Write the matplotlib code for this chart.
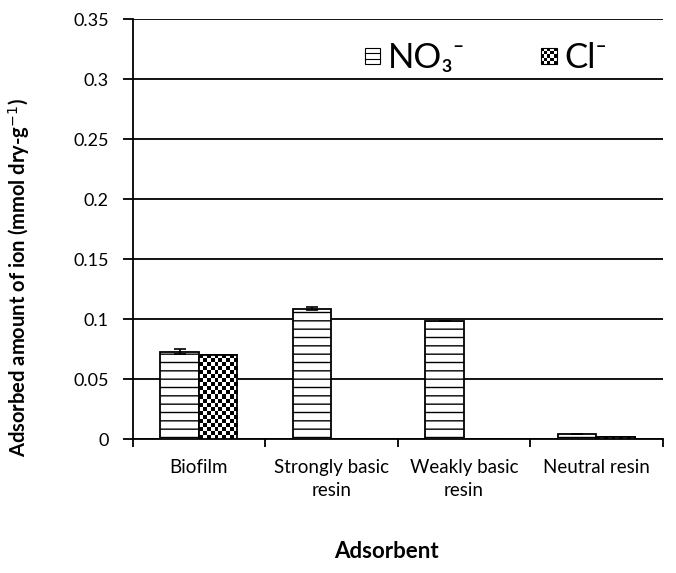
import numpy as np
import matplotlib
matplotlib.use("Agg")
import matplotlib.pyplot as plt
from matplotlib.patches import Rectangle, Patch
from matplotlib.legend_handler import HandlerBase
from matplotlib.ticker import FuncFormatter

plt.rcParams['font.family'] = ['Lato', 'DejaVu Sans']
plt.rcParams['hatch.linewidth'] = 1.0

# data
categories = ["Biofilm", "Strongly basic\nresin", "Weakly basic\nresin", "Neutral resin"]
no3 = [0.073, 0.109, 0.099, 0.0044]
no3_err = [0.002, 0.001, 0.0, 0.0]
cl = [0.070, 0.0, 0.0, 0.002]
yticks = [0, 0.05, 0.1, 0.15, 0.2, 0.25, 0.3, 0.35]


class CheckerHandler(HandlerBase):
    def create_artists(self, legend, orig_handle, xdescent, ydescent,
                       width, height, fontsize, trans):
        arts = []
        s = min(width, height) * 0.75
        x0 = -xdescent + (width - s) / 2
        y0 = -ydescent + (height - s) / 2
        n = 5
        c = s / n
        arts.append(Rectangle((x0, y0), s, s, facecolor="white",
                              edgecolor="none", transform=trans))
        for i in range(n):
            for j in range(n):
                if (i + j) % 2 == 0:
                    arts.append(Rectangle((x0 + i * c, y0 + j * c), c, c,
                                          facecolor="black", edgecolor="none",
                                          transform=trans))
        arts.append(Rectangle((x0, y0), s, s, facecolor="none",
                              edgecolor="black", lw=0.8, transform=trans))
        return arts


class SquareHatchHandler(HandlerBase):
    def create_artists(self, legend, orig_handle, xdescent, ydescent,
                       width, height, fontsize, trans):
        s = min(width, height) * 0.75
        x0 = -xdescent + (width - s) / 2
        y0 = -ydescent + (height - s) / 2
        arts = [Rectangle((x0, y0), s, s, facecolor="white",
                          edgecolor="black", lw=0.8, transform=trans)]
        for k in (1, 2):
            arts.append(plt.Line2D([x0, x0 + s], [y0 + k * s / 3] * 2,
                                   color="black", lw=0.8, transform=trans))
        return arts


fig = plt.figure(figsize=(6.76, 5.73), dpi=100)
ax = fig.add_axes([132.5 / 676, 1 - 439.3 / 573, 530 / 676, 420 / 573])

x = np.arange(len(categories))
w = 0.29

for yv in yticks:
    ax.axhline(yv, color="black", lw=1.3, zorder=1)

bars1 = ax.bar(x - w / 2, no3, w, color="white", edgecolor="black",
               hatch="--", lw=1.3, zorder=3)
ax.errorbar(x - w / 2, no3, yerr=no3_err, fmt="none", ecolor="black",
            elinewidth=1.2, capsize=4, capthick=1.2, zorder=4)

bars2 = ax.bar(x + w / 2, cl, w, color="white", edgecolor="black",
               lw=1.3, zorder=3)
# checker fill for Cl bars
for b in bars2:
    h = b.get_height()
    if h <= 0:
        continue
    nx = 10
    ny = max(1, int(round(h / 0.35 * 420 / 4)))
    ii, jj = np.indices((ny, nx))
    img = ((ii + jj) % 2).astype(float)
    im = ax.imshow(img, cmap="gray", interpolation="nearest", aspect="auto",
                   extent=(b.get_x(), b.get_x() + b.get_width(), 0, h),
                   zorder=3.5)
    im.set_clip_path(b)
    ax.add_patch(Rectangle((b.get_x(), 0), b.get_width(), h, facecolor="none",
                           edgecolor="black", lw=1.3, zorder=3.6))

ax.set_xlim(-0.5, len(categories) - 0.5)
ax.set_ylim(0, 0.35)
ax.set_aspect("auto")

ax.set_yticks(yticks)
ax.yaxis.set_major_formatter(FuncFormatter(lambda v, p: "%g" % v))
ax.tick_params(axis="y", length=7, width=1.3, labelsize=13, pad=10, direction="out")

ax.set_xticks(np.arange(len(categories) + 1) - 0.5)
ax.set_xticklabels([])
ax.set_xticks(x, minor=True)
ax.set_xticklabels(categories, minor=True)
ax.tick_params(axis="x", which="major", length=6, width=1.3, direction="out")
ax.tick_params(axis="x", which="minor", length=0, labelsize=13.5, pad=14)
for t in ax.get_xticklabels(minor=True):
    t.set_linespacing(1.45)

for s in ["top", "right"]:
    ax.spines[s].set_visible(False)
ax.spines["left"].set_linewidth(1.3)
ax.spines["bottom"].set_linewidth(1.3)

ax.set_ylabel("Adsorbed amount of ion (mmol dry-g$^{-1}$)", fontsize=14.5,
              fontweight="bold")
ax.yaxis.set_label_coords(-0.19, 0.385)
ax.set_xlabel("Adsorbent", fontsize=16, fontweight="bold")
ax.xaxis.set_label_coords(0.48, -0.243)

h1 = Patch(facecolor="white", edgecolor="black")
h2 = Patch(facecolor="black", edgecolor="black")
ax.legend([h1, h2], ["NO\u2083\u207b", "Cl\u207b"], ncol=2, frameon=False,
          fontsize=25, handlelength=0.6, handletextpad=0.15, columnspacing=2.1,
          handler_map={h1: SquareHatchHandler(), h2: CheckerHandler()},
          loc="upper right", bbox_to_anchor=(0.955, 1.02))

fig.savefig("out.png", dpi=100)
